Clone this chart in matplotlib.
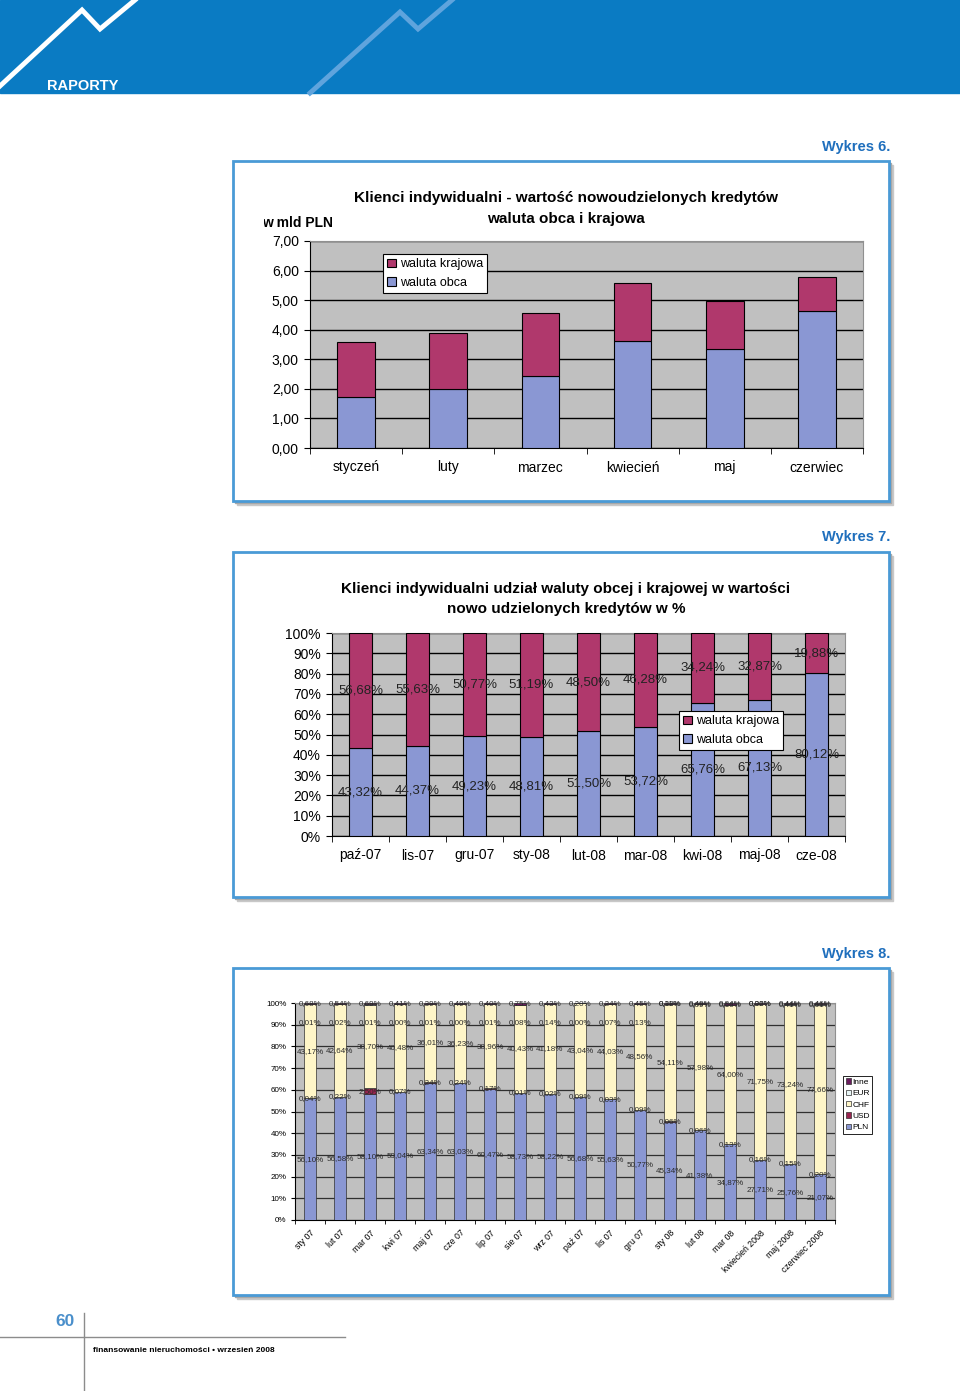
import numpy as np
import matplotlib.pyplot as plt
from matplotlib.patches import Rectangle
from matplotlib.ticker import FixedLocator, FuncFormatter
from matplotlib.transforms import Bbox, TransformedBbox

plt.rcParams['font.family'] = ['Liberation Sans', 'DejaVu Sans']
NARROW = ['Liberation Sans Narrow', 'Liberation Sans', 'DejaVu Sans']

W, H = 960, 1391

# Wykres 6 - w mld PLN
miesiace6 = ['styczeń', 'luty', 'marzec', 'kwiecień', 'maj', 'czerwiec']
obca6 = [1.74, 2.01, 2.45, 3.63, 3.34, 4.62]
krajowa6 = [1.84, 1.87, 2.12, 1.94, 1.63, 1.15]

# Wykres 7 - udział w %
miesiace7 = ['paź-07', 'lis-07', 'gru-07', 'sty-08', 'lut-08', 'mar-08', 'kwi-08', 'maj-08', 'cze-08']
obca7 = [43.32, 44.37, 49.23, 48.81, 51.50, 53.72, 65.76, 67.13, 80.12]
krajowa7 = [56.68, 55.63, 50.77, 51.19, 48.50, 46.28, 34.24, 32.87, 19.88]

# Wykres 8 - struktura walutowa w %
miesiace8 = ['sty 07', 'lut 07', 'mar 07', 'kwi 07', 'maj 07', 'cze 07', 'lip 07', 'sie 07', 'wrz 07',
             'paź 07', 'lis 07', 'gru 07', 'sty 08', 'lut 08', 'mar 08', 'kwiecień 2008', 'maj 2008',
             'czerwiec 2008']
pln8 = [56.10, 56.58, 58.10, 59.04, 63.34, 63.03, 60.47, 58.73, 58.22, 56.68, 55.63, 50.77, 45.34,
        41.38, 34.87, 27.71, 25.76, 21.07]
usd8 = [0.04, 0.22, 2.50, 0.07, 0.24, 0.24, 0.17, 0.01, 0.02, 0.09, 0.03, 0.09, 0.06, 0.06, 0.13,
        0.16, 0.15, 0.20]
chf8 = [43.17, 42.64, 38.70, 40.48, 36.01, 36.23, 38.96, 40.43, 41.18, 43.04, 44.03, 48.56, 54.11,
        57.98, 64.00, 71.75, 73.24, 77.66]
eur8 = [0.01, 0.02, 0.01, 0.00, 0.01, 0.00, 0.01, 0.08, 0.14, 0.00, 0.07, 0.13, 0.11, 0.09, 0.16,
        0.06, 0.41, 0.61]
inne8 = [0.68, 0.54, 0.69, 0.41, 0.39, 0.49, 0.40, 0.75, 0.43, 0.20, 0.24, 0.45, 0.38, 0.49, 0.84,
         0.32, 0.44, 0.46]

BLUE = '#8a97d3'
PLUM = '#b0386c'
CHF_C = '#fff6c8'
EUR_C = '#e8f6f6'
INNE_C = '#6a1c5e'
HEAD = '#0a7bc3'
FRAME = '#4a9ad6'
WYK = '#1f6fbd'


def rect(x0, y0, x1, y1):
    return [x0 / W, 1 - y1 / H, (x1 - x0) / W, (y1 - y0) / H]


def pct(v):
    return f'{v:.2f}'.replace('.', ',') + '%'


fig = plt.figure(figsize=(W / 100, H / 100), dpi=100)
bg = fig.add_axes([0, 0, 1, 1])
bg.set_xlim(0, W)
bg.set_ylim(H, 0)
bg.axis('off')

# naglowek
bg.add_patch(Rectangle((0, 0), W, 93, color=HEAD, zorder=0))
bg.plot([0, 82, 100, 135], [86, 10, 29, 0], color='white', lw=3.5, solid_joinstyle='miter')
bg.plot([310, 400, 418, 452], [93, 12, 29, 0], color='#5fa4dd', lw=3.5, solid_joinstyle='miter')
bg.text(47, 93, 'RAPORTY', color='white', fontsize=10.5, fontweight='bold', va='bottom',
        family=NARROW)

# ramki wykresow
for y0, y1, nazwa, yw in [(161, 501, 'Wykres 6.', 147), (552, 897, 'Wykres 7.', 537),
                          (968, 1295, 'Wykres 8.', 954)]:
    bg.add_patch(Rectangle((237, y0 + 4), 656, y1 - y0, color='#c8c8c8', zorder=1))
    bg.add_patch(Rectangle((235, y0 + 2), 656, y1 - y0, color='#a8a8a8', zorder=1))
    bg.add_patch(Rectangle((233, y0), 656, y1 - y0, facecolor='white', edgecolor=FRAME, lw=2, zorder=2))
    bg.text(890, yw, nazwa, color=WYK, fontsize=10.5, fontweight='bold', ha='right', va='center',
            family=NARROW)

# stopka
bg.plot([0, 345], [1337, 1337], color='#8c8c8c', lw=1)
bg.plot([84, 84], [1313, 1391], color='#8c8c8c', lw=1)
bg.text(75, 1322, '60', color='#4a8fcb', fontsize=12.5, fontweight='bold', ha='right', va='center',
        family=NARROW)
bg.text(93, 1350, 'finansowanie nieruchomości • wrzesień 2008', color='black', fontsize=6,
        fontweight='bold', va='center', family=NARROW)

# ---------------- Wykres 6
bg.text(566, 198, 'Klienci indywidualni - wartość nowoudzielonych kredytów', fontsize=11,
        fontweight='bold', ha='center', va='center', zorder=3)
bg.text(566, 219, 'waluta obca i krajowa', fontsize=11, fontweight='bold', ha='center', va='center',
        zorder=3)
t = bg.text(333, 223, 'w mld PLN', fontsize=10, fontweight='bold', ha='right', va='center', zorder=3)
t.set_clip_box(TransformedBbox(Bbox([[264, 0], [W, H]]), bg.transData))
t.set_clip_on(True)

ax1 = fig.add_axes(rect(310, 241, 863, 448))
x6 = np.arange(len(miesiace6))
ax1.bar(x6, obca6, 0.41, color=BLUE, edgecolor='black', lw=0.8, label='waluta obca', zorder=3)
ax1.bar(x6, krajowa6, 0.41, bottom=obca6, color=PLUM, edgecolor='black', lw=0.8,
        label='waluta krajowa', zorder=3)
ax1.set_xlim(-0.5, len(miesiace6) - 0.5)
ax1.set_ylim(0, 7)

# ---------------- Wykres 7
bg.text(566, 589, 'Klienci indywidualni udział waluty obcej i krajowej w wartości', fontsize=11,
        fontweight='bold', ha='center', va='center', zorder=3)
bg.text(566, 609, 'nowo udzielonych kredytów w %', fontsize=11, fontweight='bold', ha='center',
        va='center', zorder=3)
ax2 = fig.add_axes(rect(332, 633, 845, 836))
x7 = np.arange(len(miesiace7))
ax2.bar(x7, obca7, 0.41, color=BLUE, edgecolor='black', lw=0.8, label='waluta obca', zorder=3)
ax2.bar(x7, krajowa7, 0.41, bottom=obca7, color=PLUM, edgecolor='black', lw=0.8,
        label='waluta krajowa', zorder=3)
for i in range(len(miesiace7)):
    ax2.text(x7[i], obca7[i] / 2, pct(obca7[i]), ha='center', va='center', fontsize=9.5,
             color='#222222', zorder=4)
    ax2.text(x7[i], obca7[i] + krajowa7[i] / 2, pct(krajowa7[i]), ha='center', va='center',
             fontsize=9.5, color='#222222', zorder=4)
ax2.set_xlim(-0.5, len(miesiace7) - 0.5)
ax2.set_ylim(0, 100)

for ax, kat, fs in [(ax1, miesiace6, 10), (ax2, miesiace7, 10)]:
    ax.set_facecolor('#c0c0c0')
    ax.grid(axis='y', color='black', lw=1, zorder=1)
    ax.set_xticks(range(len(kat)))
    ax.set_xticklabels(kat, fontsize=fs)
    ax.xaxis.set_minor_locator(FixedLocator(np.arange(-0.5, len(kat), 1)))
    ax.tick_params(axis='x', which='major', length=0, pad=9)
    ax.tick_params(axis='x', which='minor', length=4, direction='out')
    ax.tick_params(axis='y', length=4, direction='out', labelsize=fs, pad=4)
    for s in ['top', 'right']:
        ax.spines[s].set_color('#909090')

ax1.yaxis.set_major_formatter(FuncFormatter(lambda v, p: f'{v:.2f}'.replace('.', ',')))
ax2.yaxis.set_major_locator(FixedLocator(np.arange(0, 101, 10)))
ax2.yaxis.set_major_formatter(FuncFormatter(lambda v, p: f'{v:.0f}%'))

for ax, anc in [(ax1, (0.132, 0.937)), (ax2, (0.676, 0.616))]:
    h, l = ax.get_legend_handles_labels()
    leg = ax.legend(h[::-1], l[::-1], loc='upper left', bbox_to_anchor=anc, borderaxespad=0,
                    fontsize=9, fancybox=False, framealpha=1, edgecolor='black', handlelength=0.7,
                    handleheight=0.7, handletextpad=0.3, borderpad=0.35, labelspacing=0.5)
    leg.get_frame().set_linewidth(0.8)
    leg.set_zorder(5)

# ---------------- Wykres 8
ax3 = fig.add_axes(rect(295, 1003, 835, 1220))
x8 = np.arange(len(miesiace8))
serie = [('PLN', pln8, BLUE), ('USD', usd8, '#98244f'), ('CHF', chf8, CHF_C), ('EUR', eur8, EUR_C),
         ('Inne', inne8, INNE_C)]
dol = np.zeros(len(miesiace8))
for nazwa, val, kol in serie:
    val = np.array(val)
    ax3.bar(x8, val, 0.42, bottom=dol, color=kol, edgecolor='#303030', lw=0.5, label=nazwa, zorder=3)
    for i in range(len(miesiace8)):
        yl = dol[i] + val[i] / 2
        if nazwa == 'EUR' and i < 12:
            yl = 91
        ax3.text(x8[i], yl, pct(val[i]), ha='center', va='center', fontsize=5.8, color='#2a2a2a',
                 zorder=4)
    dol = dol + val
ax3.set_xlim(-0.5, len(miesiace8) - 0.5)
ax3.set_ylim(0, 100)
ax3.set_facecolor('#c0c0c0')
ax3.grid(axis='y', color='#303030', lw=0.9, zorder=1)
ax3.yaxis.set_major_locator(FixedLocator(np.arange(0, 101, 10)))
ax3.yaxis.set_major_formatter(FuncFormatter(lambda v, p: f'{v:.0f}%'))
ax3.set_xticks(x8)
ax3.set_xticklabels(miesiace8, fontsize=6.3, rotation=45, ha='right', rotation_mode='anchor')
ax3.xaxis.set_minor_locator(FixedLocator(np.arange(-0.5, len(miesiace8), 1)))
ax3.tick_params(axis='x', which='major', length=0, pad=6)
ax3.tick_params(axis='x', which='minor', length=3, direction='out')
ax3.tick_params(axis='y', length=3, direction='out', labelsize=5.8, pad=3)
for s in ['top', 'right']:
    ax3.spines[s].set_color('#909090')
h, l = ax3.get_legend_handles_labels()
leg = ax3.legend(h[::-1], l[::-1], loc='upper left', bbox_to_anchor=(1.015, 0.664), borderaxespad=0,
                 fontsize=6, fancybox=False, framealpha=1, edgecolor='black', handlelength=0.6,
                 handleheight=0.6, handletextpad=0.2, borderpad=0.3, labelspacing=0.45)
leg.get_frame().set_linewidth(0.6)

fig.savefig('out.png', dpi=100)
